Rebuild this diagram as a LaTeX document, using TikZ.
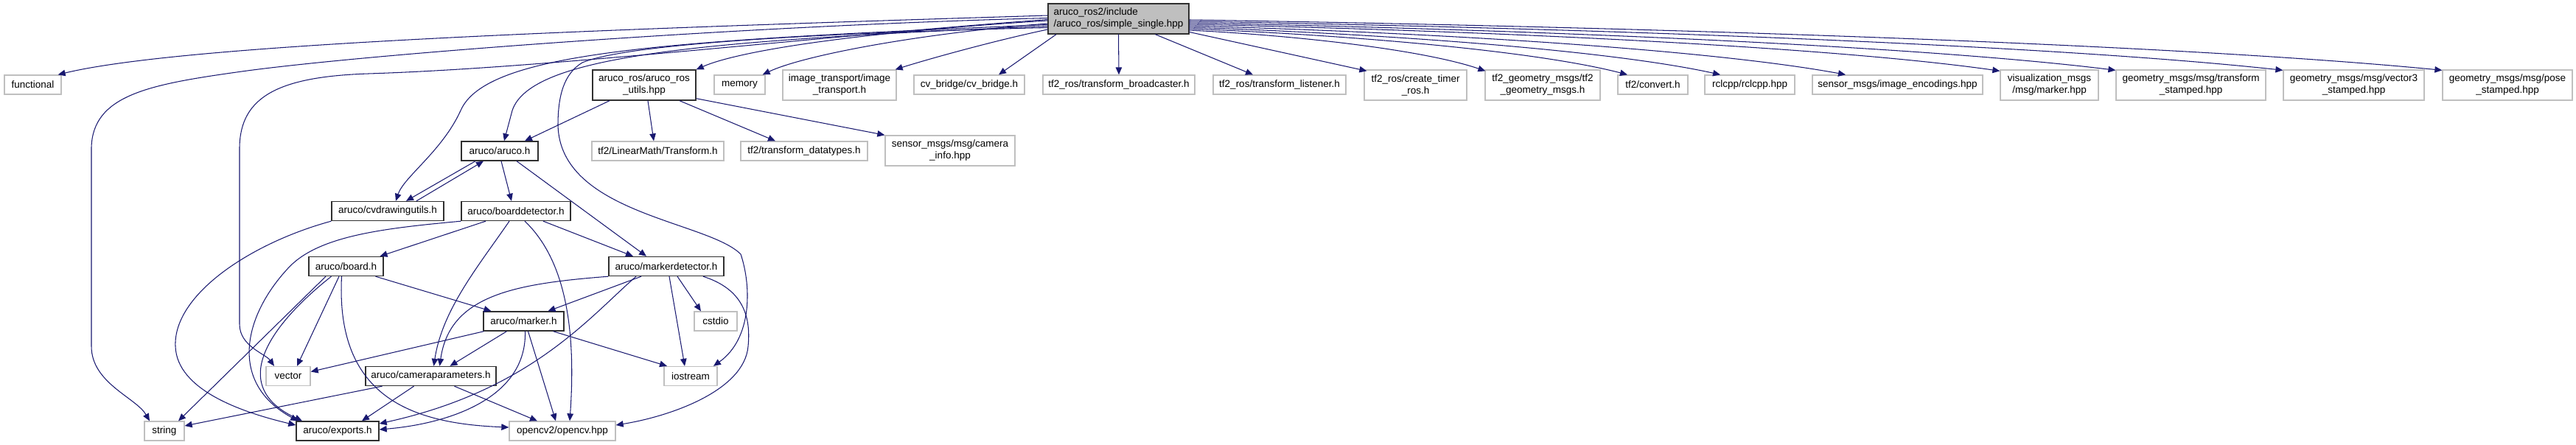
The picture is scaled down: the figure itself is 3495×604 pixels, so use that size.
\documentclass[tikz,border=0pt]{standalone}
\usepackage{fontspec}
\setmainfont{Liberation Sans}
\usetikzlibrary{arrows.meta}
\definecolor{edgeblue}{HTML}{191970}
\definecolor{extgray}{HTML}{BFBFBF}
\definecolor{rootfill}{HTML}{BFBFBF}
\definecolor{intborder}{HTML}{303030}
\begin{document}
\begin{tikzpicture}[x=1pt,y=-1pt,
  box/.style={rectangle, inner sep=0pt, align=center, font=\fontsize{13.5}{16}\selectfont, fill=white},
  extbox/.style={box, draw=extgray, line width=1.3pt},
  intbox/.style={box, draw=intborder, line width=1.4pt},
  rootbox/.style={box, draw=intborder, line width=1.4pt, fill=rootfill, align=left},
  edge/.style={draw=edgeblue, line width=1.05pt, -{Triangle[length=10pt,width=8.5pt]}},
  s1/.style={minimum height=26pt},
  s2/.style={minimum height=41pt},
]
\useasboundingbox (0,0) rectangle (3495,604);
% row 0
\node[rootbox, s2, minimum width=191pt] (root) at (1517.5,25.5) {aruco\_ros2/include\\/aruco\_ros/simple\_single.hpp};
% row 1
\node[extbox, s1, minimum width=77pt] (func) at (44.5,115) {functional};
\node[intbox, s2, minimum width=140pt] (utils) at (874,115.5) {aruco\_ros/aruco\_ros\\\_utils.hpp};
\node[extbox, s1, minimum width=69pt] (memory) at (1003.5,115) {memory};
\node[extbox, s2, minimum width=154pt] (imgtr) at (1139,115.5) {image\_transport/image\\\_transport.h};
\node[extbox, s1, minimum width=150pt] (cvb) at (1315,115) {cv\_bridge/cv\_bridge.h};
\node[extbox, s1, minimum width=206pt] (bcast) at (1518,115) {tf2\_ros/transform\_broadcaster.h};
\node[extbox, s1, minimum width=180pt] (listen) at (1736,115) {tf2\_ros/transform\_listener.h};
\node[extbox, s2, minimum width=139pt] (ctimer) at (1920.5,115.5) {tf2\_ros/create\_timer\\\_ros.h};
\node[extbox, s2, minimum width=156pt] (tf2gm) at (2093,115.5) {tf2\_geometry\_msgs/tf2\\\_geometry\_msgs.h};
\node[extbox, s1, minimum width=95pt] (conv) at (2242.5,115) {tf2/convert.h};
\node[extbox, s1, minimum width=122pt] (rcl) at (2374,115) {rclcpp/rclcpp.hpp};
\node[extbox, s1, minimum width=231pt] (senc) at (2574.5,115) {sensor\_msgs/image\_encodings.hpp};
\node[extbox, s2, minimum width=133pt] (viz) at (2780.5,115.5) {visualization\_msgs\\/msg/marker.hpp};
\node[extbox, s2, minimum width=203pt] (tfst) at (2972.5,115.5) {geometry\_msgs/msg/transform\\\_stamped.hpp};
\node[extbox, s2, minimum width=191pt] (v3) at (3193.5,115.5) {geometry\_msgs/msg/vector3\\\_stamped.hpp};
\node[extbox, s2, minimum width=176pt] (pose) at (3402,115.5) {geometry\_msgs/msg/pose\\\_stamped.hpp};
% row 2
\node[intbox, s1, minimum width=104pt] (arucoh) at (678,205) {aruco/aruco.h};
\node[extbox, s1, minimum width=179pt] (ltr) at (892.5,205) {tf2/LinearMath/Transform.h};
\node[extbox, s1, minimum width=172pt] (tdt) at (1091,205) {tf2/transform\_datatypes.h};
\node[extbox, s2, minimum width=176pt] (caminfo) at (1289,204.5) {sensor\_msgs/msg/camera\\\_info.hpp};
% row 3
\node[intbox, s1, minimum width=152pt] (cvd) at (526,286.5) {aruco/cvdrawingutils.h};
\node[intbox, s1, minimum width=148pt] (bdet) at (700,286.5) {aruco/boarddetector.h};
% row 4
\node[intbox, s1, minimum width=101pt] (board) at (469.5,361.5) {aruco/board.h};
\node[intbox, s1, minimum width=156pt] (mdet) at (904,361.5) {aruco/markerdetector.h};
% row 5
\node[intbox, s1, minimum width=109pt] (marker) at (710.5,436) {aruco/marker.h};
\node[extbox, s1, minimum width=58pt] (cstdio) at (971,436) {cstdio};
% row 6
\node[extbox, s1, minimum width=60pt] (vector) at (391,510.5) {vector};
\node[intbox, s1, minimum width=177pt] (campar) at (584.5,510.5) {aruco/cameraparameters.h};
\node[extbox, s1, minimum width=72pt] (iostream) at (937,510.5) {iostream};
% row 7
\node[extbox, s1, minimum width=54pt] (string) at (223,585) {string};
\node[intbox, s1, minimum width=112pt] (exports) at (458,585) {aruco/exports.h};
\node[extbox, s1, minimum width=144pt] (opencv) at (763,585) {opencv2/opencv.hpp};

% root, left side
\draw[edge] ([yshift=4.5pt]root.west) .. controls (800,40) and (250,60) .. ([xshift=-5pt]func.north east);
\draw[edge] ([yshift=1pt]root.west) .. controls (1000,35) and (480,75) .. (321,98) .. controls (200,115) and (126,130) .. (124,200) -- (124,470) .. controls (124,520) and (185,540) .. ([xshift=-20pt]string.north);
\draw[edge] ([yshift=-1pt]root.west) .. controls (1100,50) and (750,92) .. (500,100) .. controls (380,104) and (326,130) .. (325,200) -- (325,440) .. controls (325,470) and (360,480) .. ([xshift=-19pt]vector.north);
\draw[edge] ([yshift=-2.5pt]root.west) .. controls (1150,45) and (1000,70) .. (utils.north east);
\draw[edge] ([yshift=-6.5pt]root.west) .. controls (1250,45) and (1090,75) .. ([xshift=-4pt]memory.north east);
\draw[edge] ([yshift=-8pt]root.west) .. controls (900,55) and (660,70) .. (625,150) .. controls (600,205) and (548,240) .. ([xshift=11pt]cvd.north);
\draw[edge] ([yshift=-10pt]root.west) .. controls (950,55) and (720,75) .. (695,150) -- ([xshift=6pt]arucoh.north);
\draw[edge] ([yshift=-12pt]root.west) .. controls (1100,45) and (850,60) .. (790,85) .. controls (765,100) and (757,130) .. (757,170) .. controls (760,290) and (960,300) .. (1005,345) .. controls (1020,390) and (1020,460) .. ([xshift=31pt]iostream.north);
\draw[edge] ([yshift=-14.5pt]root.west) .. controls (1350,55) and (1260,80) .. ([xshift=-2pt]imgtr.north east);
% root, bottom
\draw[edge] ([xshift=-84.5pt]root.south) -- ([xshift=40pt]cvb.north);
\draw[edge] (root.south) -- (bcast.north);
\draw[edge] ([xshift=50pt]root.south) -- ([xshift=-36pt]listen.north);
% root, right side
\draw[edge] ([yshift=-18pt]root.east) -- ([xshift=4pt,yshift=-2pt]ctimer.north west);
\draw[edge] ([yshift=-15.5pt]root.east) .. controls (1774,49) and (1935,69) .. ([xshift=1pt,yshift=-2pt]tf2gm.north west);
\draw[edge] ([yshift=-13.5pt]root.east) .. controls (1851,48.5) and (2089,70.5) .. ([xshift=-34.5pt]conv.north);
\draw[edge] ([yshift=-11.5pt]root.east) .. controls (1901,47) and (2190,69.5) .. ([xshift=-40pt]rcl.north);
\draw[edge] ([yshift=-9.5pt]root.east) .. controls (1969,45) and (2326,68.5) .. ([xshift=-70.5pt]senc.north);
\draw[edge] ([yshift=-7.5pt]root.east) .. controls (2053,42.6) and (2494,65) .. ([yshift=-2pt]viz.north west);
\draw[edge] ([yshift=-5.5pt]root.east) .. controls (2115,41) and (2618,64) .. ([yshift=-1pt]tfst.north west);
\draw[edge] ([yshift=-3.5pt]root.east) .. controls (2207,39) and (2801,63) .. ([yshift=-1pt]v3.north west);
\draw[edge] ([yshift=-1.5pt]root.east) .. controls (2293,37.5) and (2972,62) .. ([yshift=-1pt]pose.north west);
% utils
\draw[edge] ([xshift=-47pt]utils.south) -- ([xshift=34pt]arucoh.north);
\draw[edge] ([xshift=5pt]utils.south) -- ([xshift=-5.5pt]ltr.north);
\draw[edge] ([xshift=48pt]utils.south) -- ([xshift=-39pt]tdt.north);
\draw[edge] ([yshift=3pt]utils.south east) -- (caminfo.north west);
% aruco.h
\draw[edge] ([xshift=-33pt]arucoh.south) -- ([xshift=25pt]cvd.north);
\draw[edge] ([xshift=39pt]cvd.north) -- ([xshift=-22pt]arucoh.south);
\draw[edge] ([xshift=2pt]arucoh.south) -- ([xshift=-6pt]bdet.north);
\draw[edge] ([xshift=23pt]arucoh.south) -- ([xshift=-27pt]mdet.north);
% cvdrawingutils
\draw[edge] (cvd.south west) .. controls (340,330) and (235,400) .. (238,470) .. controls (240,530) and (330,560) .. ([yshift=8pt]exports.west);
% boarddetector
\draw[edge] ([xshift=-41pt]bdet.south) -- ([xshift=46pt]board.north);
\draw[edge] ([xshift=37pt]bdet.south) -- ([xshift=-45pt]mdet.north);
\draw[edge] (bdet.south west) .. controls (520,310) and (430,320) .. (390,365) .. controls (330,430) and (310,520) .. ([xshift=3pt]exports.north west);
\draw[edge] ([xshift=-9pt]bdet.south) .. controls (650,360) and (600,420) .. ([xshift=4pt]campar.north);
\draw[edge] ([xshift=12pt]bdet.south) .. controls (775,360) and (780,470) .. ([xshift=10pt]opencv.north);
% board
\draw[edge] ([xshift=-27.5pt]board.south) -- ([xshift=19pt]string.north);
\draw[edge] ([xshift=-9.5pt]board.south) -- ([xshift=12pt]vector.north);
\draw[edge] ([xshift=-20pt]board.south) .. controls (380,430) and (300,520) .. ([xshift=-48pt]exports.north);
\draw[edge] ([xshift=-6pt]board.south) .. controls (455,540) and (560,575) .. ([yshift=5pt]opencv.west);
\draw[edge] ([xshift=40pt]board.south) -- ([xshift=-44pt]marker.north);
% markerdetector
\draw[edge] ([xshift=-34pt]mdet.south) -- ([xshift=33pt]marker.north);
\draw[edge] ([xshift=15pt]mdet.south) -- ([xshift=-20pt]cstdio.north);
\draw[edge] ([xshift=4pt]mdet.south) -- ([xshift=-8pt]iostream.north);
\draw[edge] (mdet.south west) .. controls (700,385) and (610,400) .. ([xshift=12pt]campar.north);
\draw[edge] ([xshift=-41pt]mdet.south) .. controls (800,430) and (720,530) .. ([yshift=10pt]exports.east);
\draw[edge] ([xshift=50pt]mdet.south) .. controls (1000,390) and (1020,420) .. (1015,470) .. controls (1010,530) and (910,565) .. ([yshift=8pt]opencv.east);
% marker
\draw[edge] ([xshift=-54pt]marker.south) -- ([yshift=6pt]vector.east);
\draw[edge] ([xshift=-23pt]marker.south) -- ([xshift=26pt]campar.north);
\draw[edge] ([xshift=2pt]marker.south) .. controls (715,540) and (610,575) .. ([yshift=2pt]exports.east);
\draw[edge] ([xshift=6pt]marker.south) -- ([xshift=-9pt]opencv.north);
\draw[edge] ([xshift=40pt]marker.south) -- ([xshift=-32pt]iostream.north);
% cameraparameters
\draw[edge] ([xshift=-66pt]campar.south) -- ([yshift=7pt]string.east);
\draw[edge] ([xshift=-23pt]campar.south) -- ([xshift=33pt]exports.north);
\draw[edge] ([xshift=32pt]campar.south) -- ([xshift=-34pt]opencv.north);
\end{tikzpicture}
\end{document}
